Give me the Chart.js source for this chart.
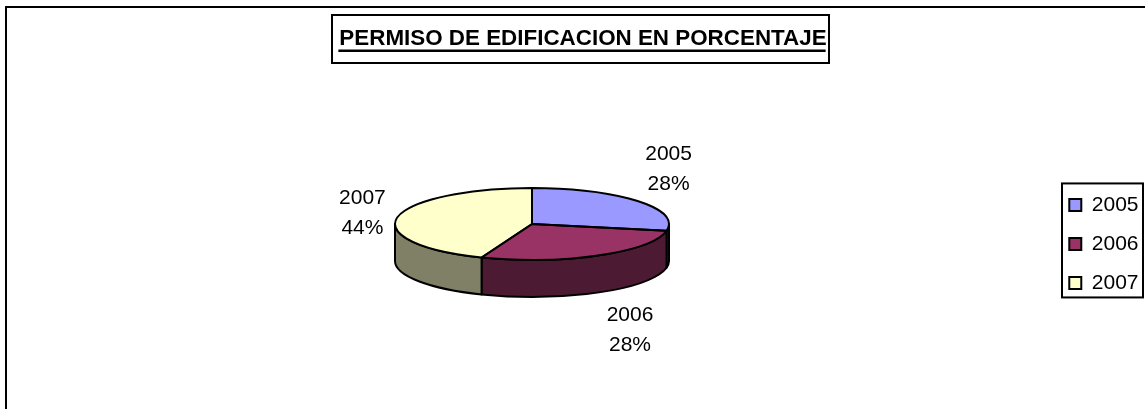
<!DOCTYPE html>
<html><head><meta charset="utf-8">
<style>html,body{margin:0;padding:0;background:#fff}canvas{display:block}</style>
<script src="https://cdn.jsdelivr.net/npm/chart.js@4"></script>
</head><body>
<canvas id="c" width="1145" height="409"></canvas>
<script>
const categories = ['2005', '2006', '2007'];
const percentages = [28, 28, 44];
const sliceColors = ['#9999FF', '#993366', '#FFFFCC'];
const wallColors = ['#4D4D80', '#4D1A33', '#808066'];
const chartTitle = 'PERMISO DE EDIFICACION EN PORCENTAJE';

const FONT = '"Liberation Sans", Arial, sans-serif';
const pieView = { cx: 532, cy: 224, rx: 137, ry: 36, depth: 37 };
const labelNudge = [[31, -32], [32, 75], [-35, -4]];

const pie3d = {
  id: 'pie3d',
  beforeDraw(chart) {
    const { ctx, width, height } = chart;
    ctx.save();
    ctx.fillStyle = '#fff';
    ctx.fillRect(0, 0, width, height);
    ctx.strokeStyle = '#000';
    ctx.lineWidth = 2;
    ctx.beginPath();
    ctx.moveTo(6, height + 2);
    ctx.lineTo(6, 7);
    ctx.lineTo(width + 2, 7);
    ctx.stroke();
    // title frame
    const t = chart.titleBlock;
    const cxT = (t.left + t.right) / 2;
    ctx.font = 'bold ' + t.options.font.size + 'px ' + FONT;
    const w = ctx.measureText(chartTitle).width;
    ctx.strokeRect(Math.round(cxT - w / 2 - 7), 15, Math.round(w + 10), 48);
    ctx.fillStyle = '#000';
    ctx.fillRect(cxT - w / 2 - 1, 49.5, w, 2.5);
    // legend frame
    const l = chart.legend;
    const hb = l.legendHitBoxes;
    ctx.strokeRect(1062, hb[0].top - 11, 81, hb[2].top + hb[2].height - hb[0].top + 15);
    ctx.restore();
  },
  beforeDatasetsDraw(chart) {
    const { ctx } = chart;
    const arcs = chart.getDatasetMeta(0).data;
    const { cx, cy, rx, ry, depth } = pieView;
    ctx.save();
    ctx.lineWidth = 2;
    ctx.strokeStyle = '#000';
    ctx.lineJoin = 'round';
    arcs.forEach((a, i) => {
      const s = Math.max(a.startAngle, 0), e = Math.min(a.endAngle, Math.PI);
      if (e <= s) return;
      ctx.beginPath();
      ctx.ellipse(cx, cy, rx, ry, 0, s, e);
      ctx.ellipse(cx, cy + depth, rx, ry, 0, e, s, true);
      ctx.closePath();
      ctx.fillStyle = wallColors[i];
      ctx.fill();
      ctx.stroke();
    });
    ctx.restore();
    // squash the library's round pie into the tilted top face
    const a0 = arcs[0];
    ctx.save();
    ctx.translate(cx, cy);
    ctx.scale(rx / a0.outerRadius, ry / a0.outerRadius);
    ctx.translate(-a0.x, -a0.y);
  },
  afterDatasetsDraw(chart) {
    const { ctx } = chart;
    ctx.restore();
    const arcs = chart.getDatasetMeta(0).data;
    const { cx, cy, rx, ry } = pieView;
    ctx.save();
    ctx.lineWidth = 2;
    ctx.strokeStyle = '#000';
    ctx.lineJoin = 'round';
    arcs.forEach(a => {
      ctx.beginPath();
      ctx.moveTo(cx, cy);
      ctx.ellipse(cx, cy, rx, ry, 0, a.startAngle, a.endAngle);
      ctx.closePath();
      ctx.stroke();
    });
    ctx.fillStyle = '#000';
    ctx.font = '21px ' + FONT;
    ctx.textAlign = 'center';
    ctx.textBaseline = 'middle';
    arcs.forEach((a, i) => {
      const mid = (a.startAngle + a.endAngle) / 2;
      const x = cx + rx * Math.cos(mid) + labelNudge[i][0];
      const y = cy + ry * Math.sin(mid) + labelNudge[i][1];
      ctx.fillText(categories[i], x, y - 15);
      ctx.fillText(percentages[i] + '%', x, y + 15);
    });
    ctx.restore();
  }
};

new Chart(document.getElementById('c'), {
  type: 'pie',
  data: {
    labels: categories,
    datasets: [{
      data: percentages,
      backgroundColor: sliceColors,
      borderWidth: 0,
      radius: 137
    }]
  },
  options: {
    responsive: false,
    animation: false,
    events: [],
    layout: { padding: { left: 17.5, right: -3.5, top: 0, bottom: 3 } },
    plugins: {
      tooltip: { enabled: false },
      title: {
        display: true,
        text: chartTitle,
        color: '#000',
        font: { family: FONT, size: 22.4, weight: 'bold' },
        padding: { top: 25, bottom: 30 }
      },
      legend: {
        display: true,
        fullSize: false,
        position: 'right',
        labels: {
          color: '#000',
          font: { family: FONT, size: 21 },
          boxWidth: 12,
          boxHeight: 12,
          padding: 18,
          generateLabels(chart) {
            return Chart.overrides.pie.plugins.legend.labels.generateLabels(chart).map(it => {
              it.strokeStyle = '#000';
              it.lineWidth = 2;
              return it;
            });
          }
        }
      }
    }
  },
  plugins: [pie3d]
});
</script>
</body></html>
